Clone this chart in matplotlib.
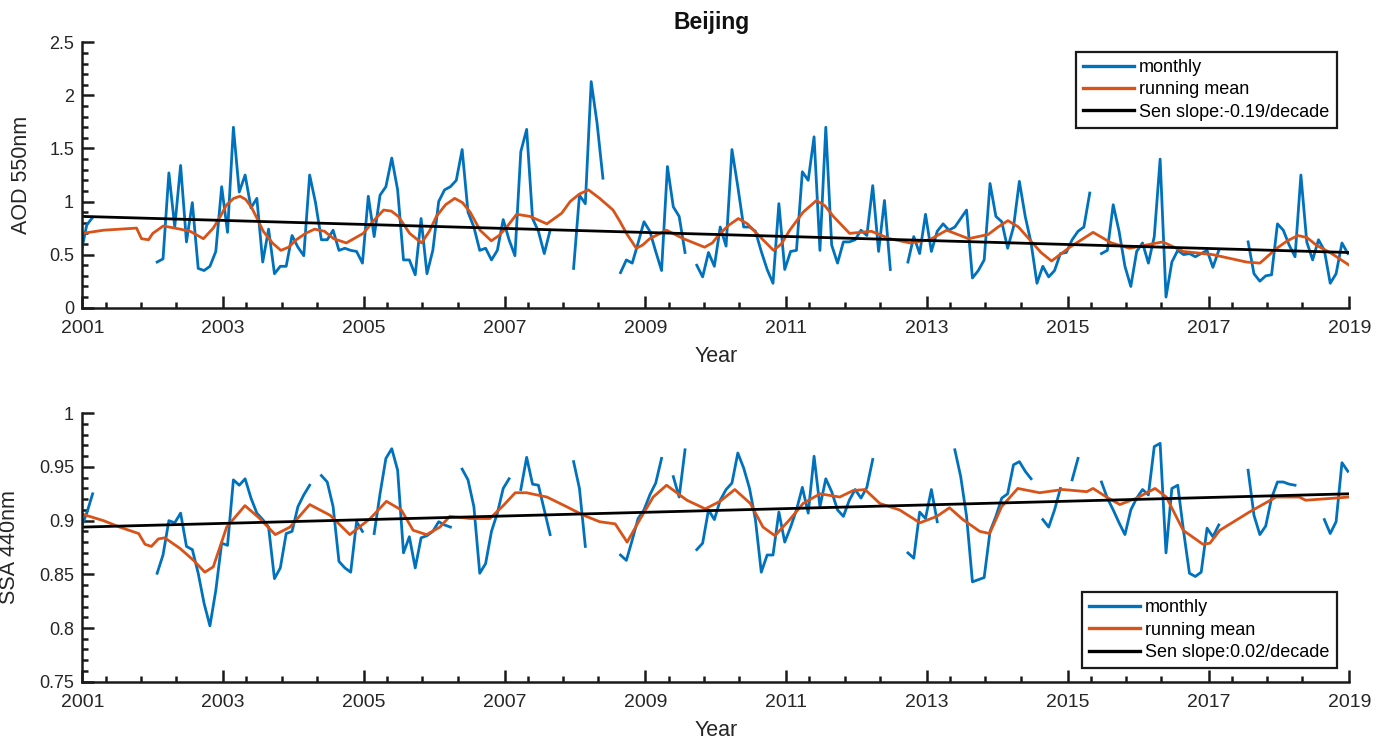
import numpy as np
import matplotlib
matplotlib.use("Agg")
import matplotlib.pyplot as plt
from matplotlib.ticker import FixedLocator, MultipleLocator, FuncFormatter

plt.rcParams['font.family'] = ['Liberation Sans', 'DejaVu Sans']

nan = np.nan

# ---------------- data ----------------
# monthly values, first entry = Dec 2000, then Jan..Dec for 2001..2018
aod_monthly = [0.51,
    0.78, 0.85, nan, nan, nan, nan, nan, nan, nan, nan, nan, nan,                # 2001
    0.43, 0.46, 1.27, 0.76, 1.34, 0.62, 0.99, 0.37, 0.35, 0.39, 0.53, 1.14,      # 2002
    0.71, 1.70, 1.09, 1.25, 0.94, 1.03, 0.43, 0.74, 0.32, 0.39, 0.39, 0.68,      # 2003
    0.57, 0.49, 1.25, 0.99, 0.64, 0.64, 0.73, 0.54, 0.56, 0.54, 0.53, 0.42,      # 2004
    1.05, 0.67, 1.06, 1.14, 1.41, 1.11, 0.45, 0.45, 0.31, 0.84, 0.32, 0.54,      # 2005
    1.00, 1.11, 1.14, 1.20, 1.49, 0.90, 0.76, 0.54, 0.56, 0.45, 0.54, 0.83,      # 2006
    0.64, 0.49, 1.47, 1.68, 0.84, 0.72, 0.51, 0.73, nan, nan, nan, 0.37,         # 2007
    1.06, 0.98, 2.13, 1.74, 1.22, nan, nan, 0.33, 0.45, 0.42, 0.61, 0.81,        # 2008
    0.72, 0.53, 0.35, 1.33, 0.95, 0.86, 0.52, nan, 0.40, 0.29, 0.52, 0.39,       # 2009
    0.76, 0.58, 1.49, 1.14, 0.76, 0.76, 0.72, 0.53, 0.36, 0.23, 0.98, 0.36,      # 2010
    0.53, 0.54, 1.28, 1.20, 1.61, 0.54, 1.70, 0.59, 0.42, 0.62, 0.62, 0.64,      # 2011
    0.73, 0.68, 1.15, 0.53, 1.01, 0.36, nan, nan, 0.43, 0.67, 0.51, 0.88,        # 2012
    0.53, 0.72, 0.79, 0.73, 0.76, 0.84, 0.92, 0.28, 0.35, 0.45, 1.17, 0.86,      # 2013
    0.81, 0.56, 0.76, 1.19, 0.86, 0.61, 0.23, 0.39, 0.29, 0.35, 0.51, 0.52,      # 2014
    0.64, 0.72, 0.76, 1.08, nan, 0.51, 0.54, 0.97, 0.72, 0.39, 0.20, 0.53,       # 2015
    0.61, 0.42, 0.67, 1.40, 0.10, 0.43, 0.54, 0.50, 0.51, 0.48, 0.51, 0.54,      # 2016
    0.38, 0.54, nan, nan, nan, nan, 0.62, 0.32, 0.25, 0.30, 0.31, 0.79,          # 2017
    0.73, 0.59, 0.48, 1.25, 0.62, 0.45, 0.64, 0.54, 0.23, 0.32, 0.61, 0.51]      # 2018

ssa_monthly = [0.893,
    0.907, 0.925, nan, nan, nan, nan, nan, nan, nan, nan, nan, nan,                       # 2001
    0.851, 0.868, 0.900, 0.898, 0.907, 0.876, 0.873, 0.851, 0.823, 0.802, 0.835, 0.879,   # 2002
    0.877, 0.938, 0.933, 0.939, 0.921, 0.907, 0.901, 0.894, 0.846, 0.856, 0.888, 0.890,   # 2003
    0.913, 0.924, 0.933, nan, 0.942, 0.936, 0.913, 0.862, 0.856, 0.852, 0.899, 0.890,     # 2004
    nan, 0.888, 0.925, 0.958, 0.967, 0.947, 0.870, 0.885, 0.856, 0.884, 0.886, 0.890,     # 2005
    0.899, 0.896, 0.894, nan, 0.948, 0.938, 0.913, 0.851, 0.860, 0.890, 0.907, 0.930,     # 2006
    0.939, nan, 0.929, 0.959, 0.934, 0.933, 0.910, 0.887, nan, nan, nan, 0.955,           # 2007
    0.930, 0.876, nan, nan, nan, nan, nan, 0.868, 0.863, 0.882, 0.902, 0.910,             # 2008
    0.924, 0.935, 0.958, nan, 0.941, 0.922, 0.966, nan, 0.873, 0.879, 0.910, 0.901,       # 2009
    0.919, 0.929, 0.935, 0.963, 0.949, 0.930, 0.901, 0.852, 0.868, 0.868, 0.908, 0.880,   # 2010
    0.894, 0.910, 0.931, 0.907, 0.960, 0.913, 0.939, 0.927, 0.910, 0.904, 0.919, 0.929,   # 2011
    0.921, 0.931, 0.957, nan, nan, nan, nan, nan, 0.870, 0.865, 0.908, 0.902,             # 2012
    0.929, 0.899, nan, nan, 0.966, 0.941, 0.904, 0.843, 0.845, 0.847, 0.890, 0.904,       # 2013
    0.921, 0.925, 0.952, 0.955, 0.946, 0.939, nan, 0.901, 0.894, 0.910, 0.930, nan,       # 2014
    0.938, 0.958, nan, nan, nan, 0.936, 0.921, 0.910, 0.898, 0.887, 0.910, 0.921,         # 2015
    0.929, 0.924, 0.969, 0.972, 0.870, 0.930, 0.933, 0.890, 0.851, 0.848, 0.852, 0.893,   # 2016
    0.885, 0.896, nan, nan, nan, nan, 0.947, 0.905, 0.887, 0.895, 0.921, 0.936,           # 2017
    0.936, 0.934, 0.933, nan, nan, nan, nan, 0.901, 0.888, 0.899, 0.954, 0.946]           # 2018

# running mean
aod_rm_t = [2001.0, 2001.3, 2001.77, 2001.84, 2001.94, 2002.0, 2002.15, 2002.39, 2002.53, 2002.72,
            2002.86, 2002.96, 2003.05, 2003.15, 2003.24, 2003.32, 2003.4, 2003.49, 2003.57, 2003.7,
            2003.82, 2003.93, 2004.04, 2004.17, 2004.3, 2004.44, 2004.57, 2004.75,
            2004.99, 2005.14, 2005.28, 2005.39, 2005.49, 2005.57, 2005.65, 2005.82, 2005.93, 2006.03,
            2006.16, 2006.29, 2006.4, 2006.51, 2006.65, 2006.81, 2006.92,
            2007.03, 2007.17, 2007.36, 2007.6, 2007.81, 2007.93, 2008.06, 2008.19, 2008.35, 2008.54,
            2008.64, 2008.73, 2008.87, 2008.96, 2009.06, 2009.3, 2009.54, 2009.84, 2009.95, 2010.06,
            2010.19, 2010.32, 2010.45, 2010.58, 2010.82, 2010.93, 2011.05, 2011.24,
            2011.43, 2011.55, 2011.67, 2011.9, 2012.21, 2012.47, 2012.76, 2013.04, 2013.28, 2013.59,
            2013.87, 2014.01, 2014.15, 2014.3, 2014.46, 2014.62, 2014.77, 2015.03, 2015.36, 2015.62,
            2015.88, 2016.35, 2016.64, 2017.06, 2017.54, 2017.73, 2017.97, 2018.12, 2018.27, 2018.4,
            2018.53, 2018.75, 2019.0]
aod_rm_v = [0.70, 0.73, 0.75, 0.65, 0.64, 0.70, 0.77, 0.74, 0.72, 0.65,
            0.75, 0.86, 0.97, 1.03, 1.05, 1.02, 0.95, 0.83, 0.72, 0.61,
            0.54, 0.57, 0.64, 0.70, 0.74, 0.72, 0.65, 0.61,
            0.70, 0.82, 0.92, 0.91, 0.86, 0.78, 0.70, 0.61, 0.72, 0.86,
            0.97, 1.03, 0.99, 0.90, 0.73, 0.63, 0.68,
            0.76, 0.88, 0.86, 0.79, 0.89, 1.00, 1.07, 1.11, 1.03, 0.92,
            0.81, 0.70, 0.56, 0.59, 0.65, 0.73, 0.65, 0.57, 0.61, 0.70,
            0.78, 0.84, 0.79, 0.70, 0.54, 0.60, 0.73, 0.90,
            1.01, 0.96, 0.86, 0.70, 0.72, 0.65, 0.61, 0.64, 0.73, 0.65,
            0.69, 0.76, 0.82, 0.76, 0.64, 0.52, 0.44, 0.57, 0.71, 0.61,
            0.56, 0.62, 0.53, 0.50, 0.43, 0.42, 0.56, 0.63, 0.68, 0.66,
            0.59, 0.51, 0.40]

ssa_rm_t = [2001.0, 2001.3, 2001.53, 2001.8, 2001.89, 2001.98, 2002.08, 2002.17, 2002.39, 2002.58,
            2002.74, 2002.86, 2003.05, 2003.31, 2003.52, 2003.74, 2003.95, 2004.23, 2004.52, 2004.8,
            2005.09, 2005.32, 2005.53, 2005.7, 2005.89, 2006.08, 2006.22, 2006.51, 2006.79, 2006.98,
            2007.15, 2007.31, 2007.6, 2007.88, 2008.12, 2008.35, 2008.57, 2008.74, 2008.92, 2009.11,
            2009.3, 2009.59, 2009.85, 2010.06, 2010.27, 2010.49, 2010.67, 2010.84, 2011.05, 2011.24,
            2011.48, 2011.76, 2011.95, 2012.12, 2012.33, 2012.61, 2012.9, 2013.14, 2013.32, 2013.51,
            2013.75, 2013.89, 2014.06, 2014.29, 2014.6, 2014.93, 2015.27, 2015.36, 2015.55, 2015.74,
            2015.98, 2016.24, 2016.4, 2016.64, 2016.92, 2017.02, 2017.16, 2017.58, 2017.96, 2018.29,
            2018.38, 2019.0]
ssa_rm_v = [0.906, 0.900, 0.894, 0.888, 0.878, 0.876, 0.883, 0.884, 0.874, 0.863,
            0.852, 0.857, 0.894, 0.914, 0.902, 0.887, 0.894, 0.915, 0.905, 0.887,
            0.902, 0.918, 0.910, 0.891, 0.887, 0.894, 0.904, 0.902, 0.902, 0.914,
            0.926, 0.926, 0.922, 0.913, 0.905, 0.899, 0.897, 0.880, 0.901, 0.922,
            0.933, 0.919, 0.911, 0.918, 0.929, 0.916, 0.894, 0.886, 0.901, 0.916,
            0.925, 0.922, 0.928, 0.929, 0.916, 0.910, 0.898, 0.904, 0.912, 0.901,
            0.890, 0.888, 0.913, 0.930, 0.926, 0.929, 0.927, 0.930, 0.922, 0.915,
            0.921, 0.930, 0.922, 0.891, 0.878, 0.879, 0.891, 0.908, 0.922, 0.922,
            0.919, 0.922]

sen_years = [2001, 2019]
aod_sen = [0.86, 0.52]
ssa_sen = [0.894, 0.925]

aod_label = 'Sen slope:-0.19/decade'
ssa_label = 'Sen slope:0.02/decade'
year_ticks = [2001, 2003, 2005, 2007, 2009, 2011, 2013, 2015, 2017, 2019]

# ---------------- plotting ----------------
BLUE = '#0072BD'
ORANGE = '#D95319'
t_month = 2001 + (np.arange(-1, len(aod_monthly) - 1) + 0.75) / 12.0

fig = plt.figure(figsize=(13.75, 7.4), dpi=100)
ax1 = fig.add_axes([0.0599, 0.5842, 0.9214, 0.3586])
ax2 = fig.add_axes([0.0599, 0.0788, 0.9214, 0.3627])

minor_x = []
for y in year_ticks[:-1]:
    minor_x += [y + 0.33, y + 0.83, y + 1.33]


def style(ax, ylim, ymajor, yminor):
    ax.set_xlim(2001, 2019)
    ax.set_ylim(*ylim)
    for s in ['top', 'right']:
        ax.spines[s].set_visible(False)
    for s in ['left', 'bottom']:
        ax.spines[s].set_linewidth(1.8)
        ax.spines[s].set_color('#1a1a1a')
    ax.xaxis.set_major_locator(FixedLocator(year_ticks))
    ax.xaxis.set_minor_locator(FixedLocator(minor_x))
    ax.yaxis.set_major_locator(MultipleLocator(ymajor))
    ax.yaxis.set_minor_locator(MultipleLocator(yminor))
    ax.yaxis.set_major_formatter(FuncFormatter(lambda v, p: '%g' % round(v, 4)))
    ax.tick_params(which='major', direction='in', length=8.5, width=1.8,
                   color='#1a1a1a', labelcolor='#262626')
    ax.tick_params(which='minor', direction='in', length=4.5, width=1.8, color='#1a1a1a')
    ax.tick_params(axis='x', which='major', pad=9, labelsize=14)
    ax.tick_params(axis='y', which='major', pad=6, labelsize=13)
    ax.set_xlabel('Year', fontsize=15.5, color='#262626', labelpad=6)


def legend(ax, loc, anchor):
    lg = ax.legend(loc=loc, bbox_to_anchor=anchor, borderaxespad=0,
                   fontsize=13, handlelength=2.8, handletextpad=0.3, labelspacing=0.3,
                   borderpad=0.4, fancybox=False, framealpha=1, edgecolor='#1a1a1a')
    lg.get_frame().set_linewidth(1.6)
    for line in lg.get_lines():
        line.set_linewidth(2.4)
    return lg


ax1.plot(t_month, aod_monthly, color=BLUE, lw=2.0, label='monthly')
ax1.plot(aod_rm_t, aod_rm_v, color=ORANGE, lw=2.0, label='running mean')
ax1.plot(sen_years, aod_sen, color='black', lw=2.0, label=aod_label)
style(ax1, (0, 2.5), 0.5, 0.1)
ax1.set_ylabel('AOD 550nm', fontsize=15.5, color='#262626')
ax1.yaxis.set_label_coords(-0.040, 0.5)
legend(ax1, 'upper right', (0.990, 0.965))

ax2.plot(t_month, ssa_monthly, color=BLUE, lw=2.0, label='monthly')
ax2.plot(ssa_rm_t, ssa_rm_v, color=ORANGE, lw=2.0, label='running mean')
ax2.plot(sen_years, ssa_sen, color='black', lw=2.0, label=ssa_label)
style(ax2, (0.75, 1.0), 0.05, 0.01)
ax2.set_ylabel('SSA 440nm', fontsize=15.5, color='#262626')
ax2.yaxis.set_label_coords(-0.049, 0.5)
legend(ax2, 'lower right', (0.990, 0.05))

fig.text(712 / 1375, 1 - 23 / 740, 'Beijing', fontsize=16.5, fontweight='bold',
         ha='center', va='center', color='#111111')

fig.savefig('out.png', dpi=100)
